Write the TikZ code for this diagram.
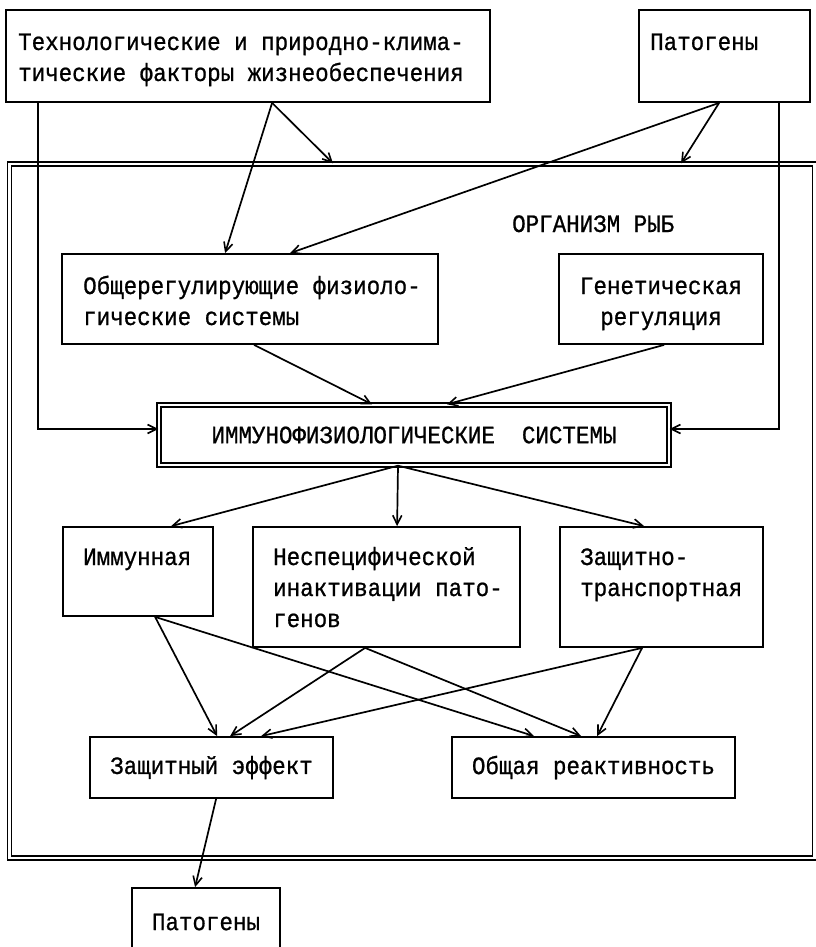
\documentclass[tikz,border=0pt]{standalone}
\usepackage{fontspec}
\newfontfamily\mono{Liberation Mono}[FakeStretch=0.9,FakeBold=0.8]
\usetikzlibrary{arrows.meta}
\newcommand{\lblL}[1]{\begin{tabular}[t]{@{}l@{}}#1\end{tabular}}
\newcommand{\lblC}[1]{\begin{tabular}[t]{@{}c@{}}#1\end{tabular}}
\begin{document}
\begin{tikzpicture}[x=1pt,y=-1pt,
  every node/.style={font=\mono\fontsize{25}{31}\selectfont, inner sep=0pt},
  box/.style={draw, line width=1.8pt, inner sep=0pt},
  dbox/.style={draw, line width=1.4pt, double, double distance=2.6pt, inner sep=0pt},
  lnk/.style={line width=1.7pt, -{Straight Barb[length=9pt,width=9pt,line width=1.6pt]}},
  txt/.style={anchor=base west}]
\useasboundingbox (0,0) rectangle (815,947);
% top
\node[box, minimum width=484pt, minimum height=92pt] (tech) at (248,56) {};
\node[txt] (techT) at (18,50) {\lblL{Технологические и природно-клима-\\тические факторы жизнеобеспечения}};
\node[box, minimum width=171pt, minimum height=92pt] (pat1) at (724.5,56) {};
\node[txt] (pat1T) at (650,50) {Патогены};
% organism frame
\node[dbox, minimum width=805pt, minimum height=694pt] (org) at (412,511) {};
\node[txt] (orgT) at (512,232) {ОРГАНИЗМ РЫБ};
\node[box, minimum width=376pt, minimum height=90pt] (obs) at (250,299) {};
\node[txt] (obsT) at (83,294) {\lblL{Общерегулирующие физиоло-\\гические системы}};
\node[box, minimum width=204pt, minimum height=90pt] (gen) at (661,299) {};
\node[anchor=base] (genT) at (661,294) {\lblC{Генетическая\\регуляция}};
\node[dbox, minimum width=510pt, minimum height=60pt] (imm) at (414,435) {ИММУНОФИЗИОЛОГИЧЕСКИЕ\ \ СИСТЕМЫ};
\node[box, minimum width=150pt, minimum height=89pt] (immun) at (138,571.5) {};
\node[txt] (immunT) at (83,565) {Иммунная};
\node[box, minimum width=267pt, minimum height=120pt] (nesp) at (386.5,587) {};
\node[txt] (nespT) at (273,565) {\lblL{Неспецифической\\инактивации пато-\\генов}};
\node[box, minimum width=203pt, minimum height=120pt] (zash) at (661.5,587) {};
\node[txt] (zashT) at (580,565) {\lblL{Защитно-\\транспортная}};
\node[box, minimum width=243pt, minimum height=61pt] (zeff) at (211.5,767.5) {Защитный эффект};
\node[box, minimum width=283pt, minimum height=61pt] (obsh) at (593.5,767.5) {Общая реактивность};
\node[box, minimum width=148pt, minimum height=68pt] (pat2) at (206,922) {Патогены};
% connectors
\draw[lnk] ([xshift=267pt]tech.south west) -- ([xshift=-79pt]org.north);
\draw[lnk] ([xshift=267pt]tech.south west) -- ([xshift=164pt]obs.north west);
\draw[lnk] ([xshift=81pt]pat1.south west) -- ([xshift=269pt]org.north);
\draw[lnk] ([xshift=81pt]pat1.south west) -- ([xshift=229pt]obs.north west);
\draw[lnk] ([xshift=33pt]tech.south west) |- ([yshift=6pt]imm.west);
\draw[lnk] ([xshift=141pt]pat1.south west) |- ([yshift=6pt]imm.east);
\draw[lnk] ([xshift=193pt]obs.south west) -- ([xshift=-42pt]imm.north);
\draw[lnk] ([xshift=106pt]gen.south west) -- ([xshift=33pt]imm.north);
\draw[lnk] ([xshift=-16pt]imm.south) -- ([xshift=109pt]immun.north west);
\draw[lnk] ([xshift=-16pt]imm.south) -- ([xshift=145pt]nesp.north west);
\draw[lnk] ([xshift=-16pt]imm.south) -- ([xshift=85pt]zash.north west);
\draw[lnk] ([xshift=93pt]immun.south west) -- ([xshift=128pt]zeff.north west);
\draw[lnk] ([xshift=93pt]immun.south west) -- ([xshift=83pt]obsh.north west);
\draw[lnk] ([xshift=113pt]nesp.south west) -- ([xshift=141pt]zeff.north west);
\draw[lnk] ([xshift=113pt]nesp.south west) -- ([xshift=130pt]obsh.north west);
\draw[lnk] ([xshift=83pt]zash.south west) -- ([xshift=172pt]zeff.north west);
\draw[lnk] ([xshift=83pt]zash.south west) -- ([xshift=146pt]obsh.north west);
\draw[lnk] ([xshift=127pt]zeff.south west) -- ([xshift=64pt]pat2.north west);
\end{tikzpicture}
\end{document}
